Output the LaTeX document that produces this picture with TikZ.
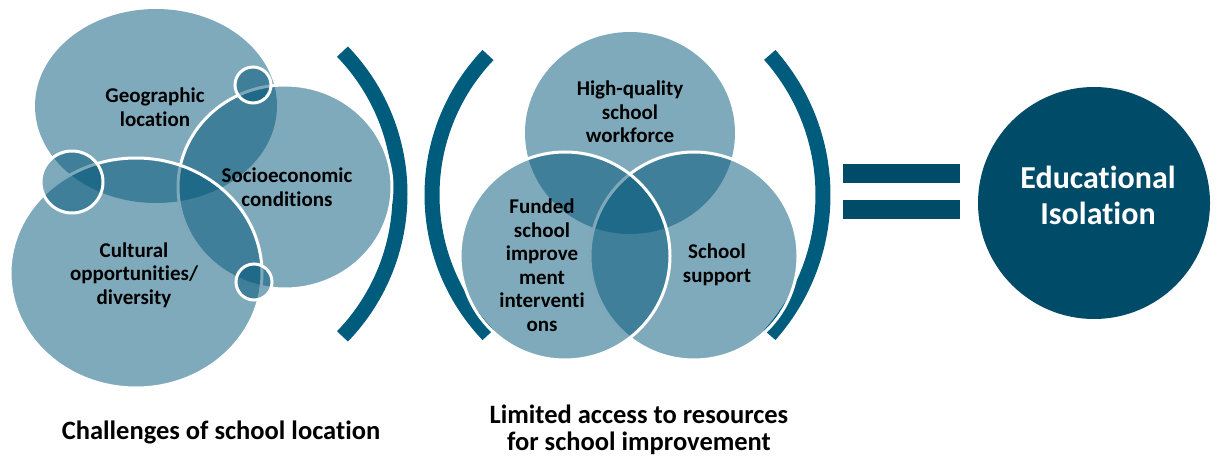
\documentclass[tikz,border=0pt]{standalone}
\usepackage{fontspec}
\setmainfont[Ligatures=NoCommon]{Carlito}
\definecolor{bubc}{RGB}{0,85,119}
\definecolor{brkc}{RGB}{0,92,124}
\definecolor{eqc}{RGB}{0,75,104}
\begin{document}
\begin{tikzpicture}[x=1pt,y=-1pt,
  bub/.style={fill=bubc, fill opacity=0.5},
  bubw/.style={bub, draw=white, draw opacity=1, line width=3pt},
  lbl/.style={font=\fontsize{21}{23.5}\selectfont\bfseries, align=center, text=black, inner sep=0pt},
  captxt/.style={font=\fontsize{26.5}{26.5}\selectfont\bfseries, align=center, text=black, inner sep=0pt},
  brk/.style={draw=brkc, line width=15pt},
  eqbar/.style={fill=eqc},
]
\useasboundingbox (0,0) rectangle (1220,457);
% brackets
\draw[brk] ([shift={(195,194)}]-44:205) arc (-44:44:205);
\draw[brk] ([shift={(635,195)}]136.4:203) arc (136.4:223.6:203);
\draw[brk] ([shift={(612,195)}]-41.6:211) arc (-41.6:41.6:211);
% left cluster
\path[bub] (156,106) ellipse (121 and 97);
\path[bubw] (285,187) ellipse (107 and 102);
\path[bubw] (136,273) ellipse (126 and 115);
\path[bubw] (253,85) circle (18);
\path[bubw] (72,182) circle (31);
\path[bubw] (254,282) circle (18);
% middle venn
\path[bub] (630,133) ellipse (105 and 101);
\path[bubw] (694,256) ellipse (104 and 104);
\path[bubw] (565,256) ellipse (105 and 104);
% equals and result
\path[eqbar] (843,164) rectangle (960,183);
\path[eqbar] (843,200) rectangle (960,219);
\path[fill=eqc] (1094,203) circle (116);
% labels
\node[lbl] (geo) at (155,107) {Geographic\\location};
\node[lbl] (soc) at (287,187) {Socioeconomic\\conditions};
\node[lbl] (cul) at (134,275) {Cultural\\opportunities/\\diversity};
\node[lbl] (hq) at (630,112) {High-quality\\school\\workforce};
\node[lbl] (fund) at (542,265) {Funded\\school\\improve\\ment\\interventi\\ons};
\node[lbl] (sup) at (717,265) {School\\support};
\node[font=\fontsize{32}{36}\selectfont\bfseries, text=white, align=center, inner sep=0pt] (edu) at (1098,195) {Educational\\Isolation};
\node[captxt] (c1) at (221,432) {Challenges of school location};
\node[captxt] (c2) at (639,430) {Limited access to resources\\for school improvement};
\end{tikzpicture}
\end{document}
